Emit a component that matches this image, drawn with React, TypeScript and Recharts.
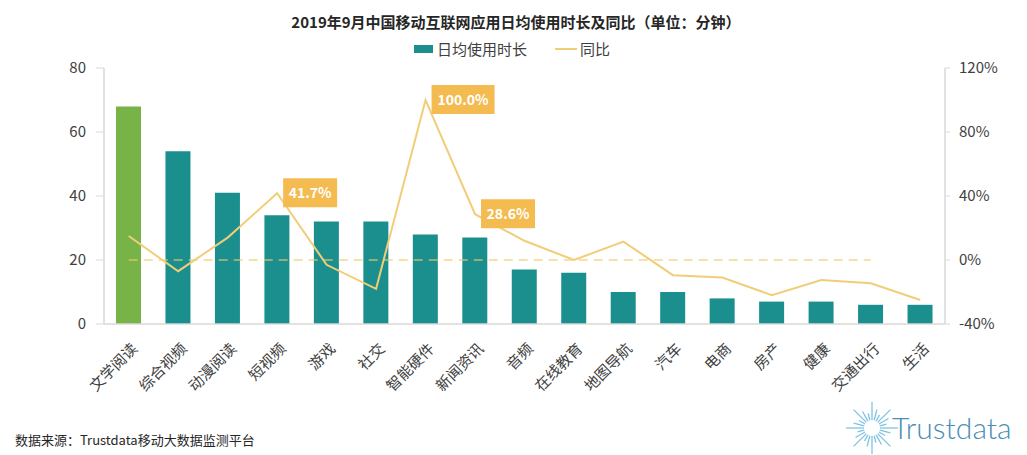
import React from 'react';
import { ComposedChart, Bar, Line, XAxis, YAxis, Cell, LabelList, ReferenceLine } from 'recharts';

const categories = ['文学阅读', '综合视频', '动漫阅读', '短视频', '游戏', '社交', '智能硬件', '新闻资讯', '音频', '在线教育', '地图导航', '汽车', '电商', '房产', '健康', '交通出行', '生活'];
const durationMinutes = [68, 54, 41, 34, 32, 32, 28, 27, 17, 16, 10, 10, 8, 7, 7, 6, 6];
const yoyPercent = [15, -7, 14, 41.7, -3, -18, 100, 28.6, 12, 0, 11.5, -9.5, -11, -22, -12.5, -14.5, -25];
const highlightedCategories = ['短视频', '智能硬件', '新闻资讯'];
const leftTicks = [0, 20, 40, 60, 80];
const rightTicks = [-40, 0, 40, 80, 120];
const barName = '日均使用时长';
const lineName = '同比';
const titleText = '2019年9月中国移动互联网应用日均使用时长及同比（单位：分钟）';
const sourceText = '数据来源：Trustdata移动大数据监测平台';
const logoText = 'Trustdata';

const data = categories.map((name, i) => ({ name, duration: durationMinutes[i], yoy: yoyPercent[i] }));

const FONT = "'Noto Sans CJK SC', 'Noto Sans', sans-serif";
const TEAL = '#1B8F8E';
const GREEN = '#77B347';
const GOLD = '#F2CD78';
const BOX = '#F3BB50';
const AXIS = '#D9D9D9';
const TXT = '#404040';

const XTick = (props: any) => {
  const { x, y, payload } = props;
  return (
    <g transform={`translate(${x + 6},${y + 22})`}>
      <text textAnchor="end" dy="0.35em" transform="rotate(-45)" fontSize={15} fill={TXT} fontFamily={FONT}>
        {payload.value}
      </text>
    </g>
  );
};

const YoyLabel = (props: any) => {
  const { x, y, value, index } = props;
  if (!highlightedCategories.includes(categories[index])) return null;
  const text = `${Number(value).toFixed(1)}%`;
  const w = text.length * 9 + 9;
  return (
    <g>
      <rect x={x + 6} y={y - 15} width={w} height={29} fill={BOX} />
      <text x={x + 6 + w / 2} y={y} dy="0.35em" textAnchor="middle" fontSize={14} fontWeight={700} fill="#FFFFFF" fontFamily={FONT}>
        {text}
      </text>
    </g>
  );
};

const rays = Array.from({ length: 24 }, (_, i) => i);

export default function App() {
  return (
    <div style={{ position: 'absolute', left: 0, top: 0, width: 1027, height: 455, background: '#fff', fontFamily: FONT }}>
      <div style={{ position: 'absolute', left: 0, width: 1032, top: 11, textAlign: 'center', fontSize: 15, fontWeight: 700, color: '#262626', lineHeight: '22px' }}>
        {titleText}
      </div>
      <div style={{ position: 'absolute', left: 414, top: 45, width: 19, height: 8, background: TEAL }} />
      <div style={{ position: 'absolute', left: 437, top: 38, fontSize: 15, color: TXT, lineHeight: '22px' }}>{barName}</div>
      <div style={{ position: 'absolute', left: 555, top: 48, width: 22, height: 2, background: GOLD }} />
      <div style={{ position: 'absolute', left: 580, top: 38, fontSize: 15, color: TXT, lineHeight: '22px' }}>{lineName}</div>

      <ComposedChart width={1027} height={455} data={data} margin={{ top: 68, right: 0, left: 0, bottom: 0 }} barCategoryGap="49%">
        <XAxis
          dataKey="name"
          xAxisId={0}
          height={131}
          interval={0}
          tickLine={false}
          tickSize={0}
          tickMargin={0}
          axisLine={{ stroke: AXIS, strokeWidth: 1.5 }}
          tick={<XTick />}
        />
        <YAxis
          yAxisId="left"
          orientation="left"
          domain={[0, 80]}
          ticks={leftTicks}
          width={104}
          axisLine={{ stroke: AXIS, strokeWidth: 1.5 }}
          tickLine={{ stroke: AXIS }}
          tickSize={8}
          tickMargin={10}
          tick={{ fill: TXT, fontSize: 15, fontFamily: FONT }}
        />
        <YAxis
          yAxisId="right"
          orientation="right"
          domain={[-40, 120]}
          ticks={rightTicks}
          width={82}
          tickFormatter={(v: number) => `${v}%`}
          axisLine={{ stroke: AXIS, strokeWidth: 1.5 }}
          tickLine={{ stroke: AXIS }}
          tickSize={5}
          tickMargin={9}
          tick={{ fill: TXT, fontSize: 15, fontFamily: FONT, textAnchor: 'start' }}
        />
        <Bar dataKey="duration" name={barName} yAxisId="left" barSize={25} fill={TEAL} isAnimationActive={false}>
          {data.map((d, i) => (
            <Cell key={d.name} fill={i === 0 ? GREEN : TEAL} />
          ))}
        </Bar>
        <ReferenceLine
          yAxisId="right"
          segment={[{ x: categories[0], y: 0 }, { x: categories[15], y: 0 }]}
          stroke="#F4C766"
          strokeOpacity={0.75}
          strokeWidth={1.5}
          strokeDasharray="9 6"
        />
        <Line
          dataKey="yoy"
          name={lineName}
          yAxisId="right"
          type="linear"
          stroke={GOLD}
          strokeWidth={2}
          dot={false}
          activeDot={false}
          isAnimationActive={false}
        >
          <LabelList dataKey="yoy" content={<YoyLabel />} />
        </Line>
      </ComposedChart>

      <div style={{ position: 'absolute', left: 15, top: 430, fontSize: 13, color: '#262626', lineHeight: '20px' }}>{sourceText}</div>
      <svg style={{ position: 'absolute', left: 0, top: 0, pointerEvents: 'none' }} width={1027} height={455}>
        <g transform="translate(872,428)">
          {rays.map((i) => {
            const a = (i / rays.length) * Math.PI * 2;
            const r1 = 8;
            const r2 = i % 3 === 0 ? 26 : i % 3 === 1 ? 19 : 15;
            return (
              <line key={i} x1={Math.cos(a) * r1} y1={Math.sin(a) * r1} x2={Math.cos(a) * r2} y2={Math.sin(a) * r2} stroke="#7FC3E2" strokeWidth={1.3} />
            );
          })}
        </g>
        <text x={892} y={439} fontSize={30} fontWeight={300} fill="#4B8DB4" fontFamily="Lato, 'Open Sans', sans-serif">{logoText}</text>
      </svg>
    </div>
  );
}
